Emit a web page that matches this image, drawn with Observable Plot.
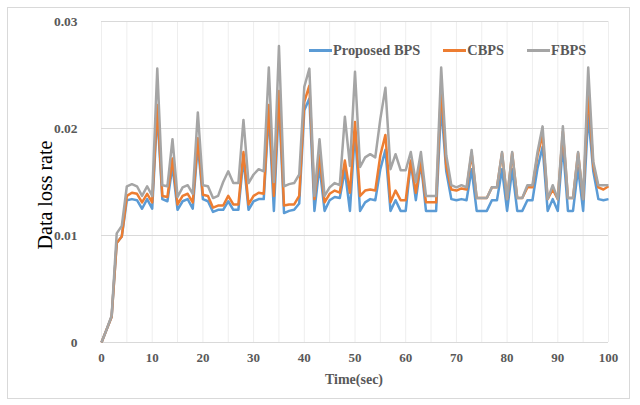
<!DOCTYPE html>
<html>
<head>
<meta charset="utf-8">
<script src="https://cdn.jsdelivr.net/npm/d3@7"></script>
<script src="https://cdn.jsdelivr.net/npm/@observablehq/plot@0.6"></script>
<style>
  html, body { margin: 0; padding: 0; background: #fff; }
  #wrap { position: relative; width: 640px; height: 405px; overflow: hidden; font-family: "Liberation Serif", "Times New Roman", serif; }
  #border { position: absolute; left: 7px; top: 7px; width: 623px; height: 392px; border: 1px solid #d9d9d9; box-sizing: border-box; pointer-events: none; }
  #chart { position: absolute; left: 0; top: 0; }
  .ytitle { position: absolute; left: 45px; top: 195px; transform: translate(-50%, -50%) rotate(-90deg); font-size: 20px; color: #000; white-space: nowrap; }
  .xtitle { position: absolute; left: 354px; top: 380px; transform: translate(-50%, -50%); font-size: 14px; font-weight: bold; color: #595959; white-space: nowrap; }
  .legend { position: absolute; top: 42px; left: 309px; display: flex; align-items: center; font-size: 14.4px; font-weight: bold; color: #595959; white-space: nowrap; }
  .legend .item { display: flex; align-items: center; }
  .legend .sw { display: inline-block; width: 23px; height: 3px; margin-right: 1px; }
</style>
</head>
<body>
<div id="wrap">
  <div id="border"></div>
  <div id="chart"></div>
  <div class="ytitle" id="ytitle"></div>
  <div class="xtitle" id="xtitle"></div>
  <div class="legend" id="legend"></div>
</div>
<script>
const seriesNames = ["Proposed BPS", "CBPS", "FBPS"];
const seriesColors = ["#5B9BD5", "#ED7D31", "#A5A5A5"];
const xTitle = "Time(sec)";
const yTitle = "Data loss rate";
const xTicks = [0, 10, 20, 30, 40, 50, 60, 70, 80, 90, 100];
const xGrid = [0, 5, 10, 15, 20, 25, 30, 35, 40, 45, 50, 55, 60, 65, 70, 75, 80, 85, 90, 95, 100];
const yTicks = [0, 0.01, 0.02, 0.03];
const yTickLabels = ["0", "0.01", "0.02", "0.03"];

const proposedBPS = [
  0, 0.0012, 0.0024, 0.0093, 0.0099, 0.0133, 0.0134, 0.0133, 0.0125, 0.0134,
  0.0125, 0.0215, 0.0134, 0.0132, 0.0165, 0.0124, 0.0132, 0.0134, 0.0125, 0.0185,
  0.0134, 0.0132, 0.0122, 0.0124, 0.0124, 0.0132, 0.0124, 0.0124, 0.0172, 0.0124,
  0.0132, 0.0134, 0.0134, 0.0215, 0.0123, 0.0225, 0.0121, 0.0123, 0.0124, 0.0130,
  0.0217, 0.0228, 0.0123, 0.0165, 0.0123, 0.0133, 0.0136, 0.0135, 0.0161, 0.0123,
  0.0198, 0.0123, 0.0131, 0.0134, 0.0133, 0.0162, 0.0180, 0.0123, 0.0133, 0.0123,
  0.0123, 0.0169, 0.0133, 0.0168, 0.0123, 0.0123, 0.0123, 0.0222, 0.0160, 0.0134,
  0.0133, 0.0134, 0.0133, 0.0162, 0.0123, 0.0123, 0.0123, 0.0133, 0.0133, 0.0162,
  0.0123, 0.0162, 0.0123, 0.0123, 0.0133, 0.0133, 0.0163, 0.0183, 0.0123, 0.0134,
  0.0123, 0.0185, 0.0123, 0.0123, 0.0163, 0.0123, 0.0213, 0.0160, 0.0134, 0.0133,
  0.0134
];
const cbps = [
  0, 0.0012, 0.0024, 0.0093, 0.0099, 0.0137, 0.0140, 0.0139, 0.0131, 0.0139,
  0.0131, 0.0222, 0.0137, 0.0136, 0.0172, 0.0129, 0.0137, 0.0139, 0.0131, 0.0191,
  0.0138, 0.0137, 0.0126, 0.0128, 0.0128, 0.0137, 0.0129, 0.0129, 0.0178, 0.0129,
  0.0137, 0.0140, 0.0139, 0.0222, 0.0137, 0.0235, 0.0128, 0.0129, 0.0129, 0.0137,
  0.0225, 0.0240, 0.0134, 0.0175, 0.0131, 0.0139, 0.0142, 0.0140, 0.0170, 0.0140,
  0.0206, 0.0137, 0.0142, 0.0143, 0.0142, 0.0175, 0.0194, 0.0131, 0.0142, 0.0133,
  0.0133, 0.0170, 0.0140, 0.0169, 0.0131, 0.0131, 0.0131, 0.0240, 0.0165, 0.0143,
  0.0142, 0.0144, 0.0143, 0.0177, 0.0135, 0.0135, 0.0135, 0.0145, 0.0145, 0.0177,
  0.0134, 0.0177, 0.0135, 0.0135, 0.0145, 0.0145, 0.0175, 0.0194, 0.0134, 0.0143,
  0.0134, 0.0197, 0.0135, 0.0135, 0.0177, 0.0134, 0.0235, 0.0165, 0.0145, 0.0143,
  0.0146
];
const fbps = [
  0, 0.0012, 0.0025, 0.0102, 0.0109, 0.0146, 0.0148, 0.0146, 0.0137, 0.0146,
  0.0137, 0.0256, 0.0147, 0.0146, 0.0190, 0.0136, 0.0145, 0.0147, 0.0139, 0.0215,
  0.0147, 0.0146, 0.0135, 0.0137, 0.0150, 0.0160, 0.0149, 0.0149, 0.0208, 0.0149,
  0.0157, 0.0162, 0.0160, 0.0257, 0.0150, 0.0277, 0.0146, 0.0148, 0.0149, 0.0157,
  0.0239, 0.0256, 0.0137, 0.0190, 0.0137, 0.0145, 0.0149, 0.0147, 0.0211, 0.0165,
  0.0253, 0.0164, 0.0173, 0.0176, 0.0173, 0.0209, 0.0238, 0.0162, 0.0176, 0.0161,
  0.0161, 0.0178, 0.0150, 0.0178, 0.0137, 0.0137, 0.0137, 0.0257, 0.0175, 0.0147,
  0.0145, 0.0147, 0.0145, 0.0180, 0.0135, 0.0135, 0.0135, 0.0145, 0.0145, 0.0178,
  0.0134, 0.0178, 0.0135, 0.0135, 0.0147, 0.0147, 0.0178, 0.0202, 0.0134, 0.0147,
  0.0134, 0.0202, 0.0135, 0.0135, 0.0178, 0.0134, 0.0257, 0.0169, 0.0147, 0.0147,
  0.0147
];

const allSeries = [proposedBPS, cbps, fbps];
const rows = [];
allSeries.forEach((vals, si) => {
  vals.forEach((v, t) => rows.push({ t, v, s: seriesNames[si] }));
});

const fontFamily = '"Liberation Serif", "Times New Roman", serif';

const plot = Plot.plot({
  width: 640,
  height: 405,
  marginLeft: 101,
  marginRight: 32,
  marginTop: 21,
  marginBottom: 63,
  style: { fontFamily, background: "transparent", overflow: "visible" },
  x: { domain: [0, 100] },
  y: { domain: [0, 0.03] },
  color: { domain: seriesNames, range: seriesColors },
  marks: [
    Plot.gridX(xGrid, { stroke: "#eeeeee", strokeOpacity: 1 }),
    Plot.gridY(yTicks.filter(d => d > 0), { stroke: "#d9d9d9", strokeOpacity: 1 }),
    Plot.ruleY([0], { stroke: "#d9d9d9" }),
    Plot.axisX(xTicks, { tickSize: 0, tickPadding: 10, fontSize: 13, fontWeight: "bold", fill: "#595959", label: null }),
    Plot.axisY(yTicks, { tickSize: 0, tickPadding: 24, fontSize: 13.5, fontWeight: "bold", fill: "#595959", label: null,
      tickFormat: d => yTickLabels[yTicks.indexOf(d)] }),
    ...seriesNames.map(name => Plot.line(rows.filter(r => r.s === name), {
      x: "t", y: "v", stroke: "s", strokeWidth: 2.5, strokeLinejoin: "round", strokeLinecap: "butt"
    }))
  ]
});
document.getElementById("chart").appendChild(plot);

document.getElementById("ytitle").textContent = yTitle;
document.getElementById("xtitle").textContent = xTitle;
const legend = document.getElementById("legend");
const legendGaps = [0, 23, 23];
seriesNames.forEach((name, i) => {
  const item = document.createElement("span");
  item.className = "item";
  item.style.marginLeft = legendGaps[i] + "px";
  const sw = document.createElement("span");
  sw.className = "sw";
  sw.style.background = seriesColors[i];
  const lab = document.createElement("span");
  lab.textContent = name;
  item.appendChild(sw);
  item.appendChild(lab);
  legend.appendChild(item);
});
</script>
</body>
</html>
